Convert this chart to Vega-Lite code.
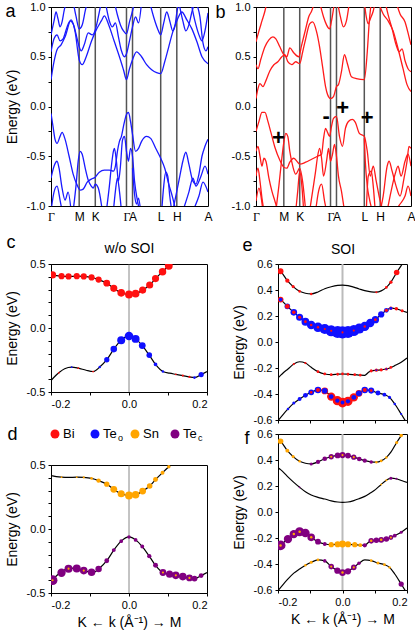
{
"$schema":"https://vega.github.io/schema/vega-lite/v6.json",
"background":"white",
"padding":{"left":4,"top":0,"right":0,"bottom":0},
"config":{
 "font":"Liberation Sans",
 "view":{"stroke":"#000","strokeWidth":1},
 "axis":{"labelFont":"Liberation Sans","labelFontSize":11,"labelColor":"#000","titleFont":"Liberation Sans","titleFontSize":14,"titleFontWeight":"normal","titleColor":"#000","domainColor":"#000","tickColor":"#000","grid":false,"tickSize":3,"labelPadding":3,"titlePadding":7,"minExtent":0,"labelOverlap":false,"labelSeparation":-40}
},
"datasets":{
"hs":[{"k":28},{"k":44},{"k":75},{"k":81},{"k":109},{"k":125}],
"sy":[{"k":22.6,"E":-0.32,"t":"+"},{"k":70.6,"E":-0.1,"t":"-"},{"k":87.3,"E":-0.015,"t":"+"},{"k":111.8,"E":-0.115,"t":"+"}],
"ba":[
{"b":1,"k":0,"E":0.27},{"b":1,"k":3,"E":0.45},{"b":1,"k":6,"E":0.57},{"b":1,"k":10,"E":0.62},{"b":1,"k":14,"E":0.7},{"b":1,"k":20,"E":0.87},{"b":1,"k":24,"E":0.75},{"b":1,"k":28,"E":0.47},{"b":1,"k":31,"E":0.42},{"b":1,"k":35,"E":0.5},{"b":1,"k":40,"E":0.65},{"b":1,"k":44,"E":0.75},{"b":1,"k":50,"E":0.86},{"b":1,"k":53,"E":0.91},{"b":1,"k":57,"E":0.83},{"b":1,"k":63,"E":0.65},{"b":1,"k":68,"E":0.5},{"b":1,"k":72,"E":0.37},{"b":1,"k":75,"E":0.27},{"b":1,"k":78,"E":0.38},{"b":1,"k":81,"E":0.47},{"b":1,"k":85,"E":0.55},{"b":1,"k":90,"E":0.5},{"b":1,"k":95,"E":0.42},{"b":1,"k":100,"E":0.37},{"b":1,"k":105,"E":0.34},{"b":1,"k":109,"E":0.33},{"b":1,"k":113,"E":0.45},{"b":1,"k":117,"E":0.6},{"b":1,"k":121,"E":0.75},{"b":1,"k":125,"E":0.86},{"b":1,"k":130,"E":0.95},{"b":1,"k":135,"E":0.87},{"b":1,"k":140,"E":0.78},{"b":1,"k":145,"E":0.65},{"b":1,"k":150,"E":0.5},{"b":1,"k":156,"E":0.43},
{"b":2,"k":0,"E":0.55},{"b":2,"k":3,"E":0.68},{"b":2,"k":6,"E":0.72},{"b":2,"k":9,"E":0.66},{"b":2,"k":12,"E":0.68},{"b":2,"k":16,"E":0.8},{"b":2,"k":19,"E":0.86},{"b":2,"k":22,"E":0.83},{"b":2,"k":26,"E":0.68},{"b":2,"k":28,"E":0.6},{"b":2,"k":30,"E":0.56},{"b":2,"k":33,"E":0.62},{"b":2,"k":37,"E":0.74},{"b":2,"k":41,"E":0.72},{"b":2,"k":44,"E":0.77},{"b":2,"k":47,"E":0.9},{"b":2,"k":50,"E":1.05},
{"b":3,"k":0,"E":0.72},{"b":3,"k":3,"E":0.86},{"b":3,"k":5,"E":0.95},{"b":3,"k":7,"E":0.88},{"b":3,"k":9,"E":0.8},{"b":3,"k":11,"E":0.85},{"b":3,"k":13,"E":0.96},{"b":3,"k":15,"E":1.05},
{"b":4,"k":22,"E":1.05},{"b":4,"k":25,"E":0.9},{"b":4,"k":28,"E":0.78},{"b":4,"k":31,"E":0.82},{"b":4,"k":34,"E":0.96},{"b":4,"k":36,"E":1.05},
{"b":5,"k":54,"E":1.05},{"b":5,"k":58,"E":0.86},{"b":5,"k":61,"E":0.8},{"b":5,"k":64,"E":0.84},{"b":5,"k":67,"E":0.7},{"b":5,"k":70,"E":0.56},{"b":5,"k":73,"E":0.5},{"b":5,"k":75,"E":0.53},{"b":5,"k":78,"E":0.66},{"b":5,"k":81,"E":0.8},{"b":5,"k":84,"E":0.9},{"b":5,"k":87,"E":0.84},{"b":5,"k":90,"E":1.05},
{"b":6,"k":63,"E":1.05},{"b":6,"k":66,"E":0.92},{"b":6,"k":69,"E":0.82},{"b":6,"k":72,"E":0.76},{"b":6,"k":75,"E":0.73},{"b":6,"k":78,"E":0.85},{"b":6,"k":81,"E":0.96},{"b":6,"k":83,"E":1.05},
{"b":7,"k":98,"E":1.05},{"b":7,"k":102,"E":0.9},{"b":7,"k":106,"E":0.78},{"b":7,"k":109,"E":0.72},{"b":7,"k":112,"E":0.84},{"b":7,"k":115,"E":0.95},{"b":7,"k":118,"E":0.86},{"b":7,"k":121,"E":0.76},{"b":7,"k":123,"E":0.8},{"b":7,"k":125,"E":0.94},{"b":7,"k":127,"E":1.05},
{"b":8,"k":127,"E":1.05},{"b":8,"k":131,"E":0.86},{"b":8,"k":134,"E":0.76},{"b":8,"k":137,"E":0.82},{"b":8,"k":140,"E":0.95},{"b":8,"k":143,"E":1.05},
{"b":9,"k":139,"E":1.05},{"b":9,"k":143,"E":0.86},{"b":9,"k":147,"E":0.72},{"b":9,"k":150,"E":0.66},{"b":9,"k":153,"E":0.76},{"b":9,"k":156,"E":0.94},
{"b":10,"k":144,"E":1.05},{"b":10,"k":148,"E":0.9},{"b":10,"k":151,"E":0.64},{"b":10,"k":154,"E":0.56},{"b":10,"k":156,"E":0.6},
{"b":11,"k":0,"E":-0.07},{"b":11,"k":2,"E":-0.2},{"b":11,"k":4,"E":-0.33},{"b":11,"k":6,"E":-0.37},{"b":11,"k":9,"E":-0.3},{"b":11,"k":11,"E":-0.26},{"b":11,"k":14,"E":-0.33},{"b":11,"k":18,"E":-0.5},{"b":11,"k":22,"E":-0.68},{"b":11,"k":26,"E":-0.79},{"b":11,"k":29,"E":-0.84},{"b":11,"k":32,"E":-0.83},{"b":11,"k":36,"E":-0.76},{"b":11,"k":40,"E":-0.73},{"b":11,"k":44,"E":-0.71},{"b":11,"k":48,"E":-0.66},{"b":11,"k":53,"E":-0.64},{"b":11,"k":58,"E":-0.64},{"b":11,"k":62,"E":-0.65},{"b":11,"k":64,"E":-0.6},{"b":11,"k":66,"E":-0.45},{"b":11,"k":68,"E":-0.35},{"b":11,"k":70,"E":-0.3},{"b":11,"k":72,"E":-0.2},{"b":11,"k":75,"E":-0.08},{"b":11,"k":77,"E":-0.06},{"b":11,"k":79,"E":-0.15},{"b":11,"k":81,"E":-0.28},{"b":11,"k":84,"E":-0.45},{"b":11,"k":87,"E":-0.42},{"b":11,"k":90,"E":-0.35},{"b":11,"k":95,"E":-0.3},{"b":11,"k":99,"E":-0.32},{"b":11,"k":104,"E":-0.42},{"b":11,"k":109,"E":-0.52},{"b":11,"k":113,"E":-0.62},{"b":11,"k":117,"E":-0.78},{"b":11,"k":121,"E":-0.92},{"b":11,"k":124,"E":-1.05},
{"b":12,"k":22,"E":-1.05},{"b":12,"k":25,"E":-0.78},{"b":12,"k":27,"E":-0.55},{"b":12,"k":29,"E":-0.45},{"b":12,"k":31,"E":-0.48},{"b":12,"k":34,"E":-0.62},{"b":12,"k":37,"E":-0.74},{"b":12,"k":40,"E":-0.8},{"b":12,"k":42,"E":-0.82},{"b":12,"k":44,"E":-0.78},{"b":12,"k":47,"E":-0.82},{"b":12,"k":51,"E":-1.05},
{"b":13,"k":0,"E":-0.72},{"b":13,"k":3,"E":-0.6},{"b":13,"k":6,"E":-0.55},{"b":13,"k":8,"E":-0.62},{"b":13,"k":11,"E":-0.82},{"b":13,"k":14,"E":-0.94},{"b":13,"k":17,"E":-0.86},{"b":13,"k":20,"E":-1.05},
{"b":14,"k":0,"E":-1.05},{"b":14,"k":3,"E":-0.86},{"b":14,"k":6,"E":-0.8},{"b":14,"k":9,"E":-0.94},{"b":14,"k":11,"E":-1.05},
{"b":15,"k":55,"E":-1.05},{"b":15,"k":58,"E":-0.8},{"b":15,"k":60,"E":-0.6},{"b":15,"k":62,"E":-0.45},{"b":15,"k":63,"E":-0.42},{"b":15,"k":65,"E":-0.55},{"b":15,"k":67,"E":-0.75},{"b":15,"k":69,"E":-0.6},{"b":15,"k":71,"E":-0.34},{"b":15,"k":73,"E":-0.3},{"b":15,"k":75,"E":-0.45},{"b":15,"k":77,"E":-0.55},{"b":15,"k":79,"E":-0.42},{"b":15,"k":81,"E":-0.5},{"b":15,"k":83,"E":-0.75},{"b":15,"k":86,"E":-0.95},{"b":15,"k":88,"E":-1.05},
{"b":16,"k":62,"E":-1.05},{"b":16,"k":64,"E":-0.85},{"b":16,"k":66,"E":-0.72},{"b":16,"k":68,"E":-0.85},{"b":16,"k":70,"E":-1.05},
{"b":17,"k":81,"E":-0.62},{"b":17,"k":83,"E":-0.88},{"b":17,"k":85,"E":-0.98},{"b":17,"k":87,"E":-0.92},{"b":17,"k":89,"E":-1.05},
{"b":18,"k":110,"E":-1.05},{"b":18,"k":112,"E":-0.8},{"b":18,"k":114,"E":-0.66},{"b":18,"k":116,"E":-0.7},{"b":18,"k":118,"E":-0.9},{"b":18,"k":120,"E":-1.05},
{"b":19,"k":121,"E":-1.05},{"b":19,"k":124,"E":-0.9},{"b":19,"k":128,"E":-0.7},{"b":19,"k":131,"E":-0.55},{"b":19,"k":134,"E":-0.46},{"b":19,"k":137,"E":-0.58},{"b":19,"k":141,"E":-0.75},{"b":19,"k":144,"E":-0.78},{"b":19,"k":147,"E":-0.68},{"b":19,"k":150,"E":-0.5},{"b":19,"k":153,"E":-0.4},{"b":19,"k":156,"E":-0.33},
{"b":20,"k":131,"E":-1.05},{"b":20,"k":137,"E":-0.86},{"b":20,"k":141,"E":-0.72},{"b":20,"k":144,"E":-0.8},{"b":20,"k":149,"E":-0.7},{"b":20,"k":153,"E":-0.6},{"b":20,"k":156,"E":-0.68},
{"b":21,"k":141,"E":-1.05},{"b":21,"k":147,"E":-0.9},{"b":21,"k":151,"E":-0.76},{"b":21,"k":156,"E":-0.86}
],
"bb":[
{"b":1,"k":0,"E":0.08},{"b":1,"k":2,"E":0.18},{"b":1,"k":4,"E":0.23},{"b":1,"k":7,"E":0.2},{"b":1,"k":10,"E":0.26},{"b":1,"k":14,"E":0.36},{"b":1,"k":18,"E":0.42},{"b":1,"k":22,"E":0.45},{"b":1,"k":26,"E":0.5},{"b":1,"k":29,"E":0.52},{"b":1,"k":32,"E":0.45},{"b":1,"k":36,"E":0.42},{"b":1,"k":40,"E":0.45},{"b":1,"k":44,"E":0.43},{"b":1,"k":47,"E":0.55},{"b":1,"k":50,"E":0.68},{"b":1,"k":54,"E":0.83},{"b":1,"k":57,"E":0.85},{"b":1,"k":61,"E":0.75},{"b":1,"k":64,"E":0.6},{"b":1,"k":67,"E":0.4},{"b":1,"k":70,"E":0.2},{"b":1,"k":72,"E":0.12},{"b":1,"k":75,"E":0.08},{"b":1,"k":78,"E":0.1},{"b":1,"k":81,"E":0.2},{"b":1,"k":83,"E":0.22},{"b":1,"k":86,"E":0.35},{"b":1,"k":89,"E":0.52},{"b":1,"k":92,"E":0.43},{"b":1,"k":96,"E":0.3},{"b":1,"k":101,"E":0.28},{"b":1,"k":109,"E":0.27},{"b":1,"k":112,"E":0.55},{"b":1,"k":114,"E":0.85},{"b":1,"k":116,"E":1.05},
{"b":2,"k":0,"E":0.42},{"b":2,"k":2,"E":0.38},{"b":2,"k":5,"E":0.48},{"b":2,"k":9,"E":0.6},{"b":2,"k":13,"E":0.67},{"b":2,"k":17,"E":0.7},{"b":2,"k":20,"E":0.68},{"b":2,"k":24,"E":0.6},{"b":2,"k":28,"E":0.52},{"b":2,"k":31,"E":0.5},{"b":2,"k":34,"E":0.59},{"b":2,"k":38,"E":0.54},{"b":2,"k":43,"E":0.5},{"b":2,"k":46,"E":0.62},{"b":2,"k":50,"E":0.78},{"b":2,"k":53,"E":0.9},{"b":2,"k":56,"E":0.96},{"b":2,"k":59,"E":1.05},
{"b":3,"k":0,"E":0.65},{"b":3,"k":3,"E":0.76},{"b":3,"k":6,"E":0.86},{"b":3,"k":9,"E":0.96},{"b":3,"k":11,"E":1.05},
{"b":4,"k":64,"E":1.05},{"b":4,"k":68,"E":0.9},{"b":4,"k":71,"E":0.82},{"b":4,"k":74,"E":0.78},{"b":4,"k":76,"E":0.86},{"b":4,"k":79,"E":1.05},
{"b":5,"k":82,"E":1.05},{"b":5,"k":85,"E":0.9},{"b":5,"k":88,"E":0.8},{"b":5,"k":91,"E":0.86},{"b":5,"k":94,"E":1.05},
{"b":6,"k":109,"E":1.05},{"b":6,"k":111,"E":0.9},{"b":6,"k":113,"E":0.83},{"b":6,"k":115,"E":0.88},{"b":6,"k":118,"E":0.96},{"b":6,"k":120,"E":1.05},
{"b":7,"k":125,"E":1.0},{"b":7,"k":128,"E":0.93},{"b":7,"k":133,"E":0.86},{"b":7,"k":138,"E":0.76},{"b":7,"k":143,"E":0.58},{"b":7,"k":148,"E":0.38},{"b":7,"k":152,"E":0.22},{"b":7,"k":156,"E":0.15},
{"b":8,"k":130,"E":1.05},{"b":8,"k":133,"E":0.92},{"b":8,"k":137,"E":0.78},{"b":8,"k":141,"E":0.62},{"b":8,"k":144,"E":0.55},{"b":8,"k":147,"E":0.58},{"b":8,"k":150,"E":0.46},{"b":8,"k":153,"E":0.38},{"b":8,"k":156,"E":0.35},
{"b":9,"k":141,"E":1.05},{"b":9,"k":145,"E":0.93},{"b":9,"k":150,"E":0.85},{"b":9,"k":154,"E":0.7},{"b":9,"k":156,"E":0.62},
{"b":10,"k":0,"E":-0.25},{"b":10,"k":3,"E":-0.15},{"b":10,"k":6,"E":-0.06},{"b":10,"k":9,"E":-0.06},{"b":10,"k":12,"E":-0.15},{"b":10,"k":15,"E":-0.26},{"b":10,"k":19,"E":-0.41},{"b":10,"k":24,"E":-0.54},{"b":10,"k":28,"E":-0.61},{"b":10,"k":31,"E":-0.62},{"b":10,"k":34,"E":-0.56},{"b":10,"k":38,"E":-0.52},{"b":10,"k":42,"E":-0.56},{"b":10,"k":44,"E":-0.58},{"b":10,"k":50,"E":-0.56},{"b":10,"k":56,"E":-0.53},{"b":10,"k":62,"E":-0.5},{"b":10,"k":66,"E":-0.48},{"b":10,"k":68,"E":-0.32},{"b":10,"k":70,"E":-0.22},{"b":10,"k":72,"E":-0.26},{"b":10,"k":74,"E":-0.3},{"b":10,"k":76,"E":-0.2},{"b":10,"k":78,"E":-0.12},{"b":10,"k":81,"E":-0.1},{"b":10,"k":84,"E":-0.3},{"b":10,"k":87,"E":-0.4},{"b":10,"k":90,"E":-0.22},{"b":10,"k":93,"E":-0.15},{"b":10,"k":97,"E":-0.13},{"b":10,"k":100,"E":-0.16},{"b":10,"k":104,"E":-0.27},{"b":10,"k":109,"E":-0.3},{"b":10,"k":112,"E":-0.45},{"b":10,"k":115,"E":-0.7},{"b":10,"k":118,"E":-0.6},{"b":10,"k":121,"E":-0.75},{"b":10,"k":125,"E":-0.95},{"b":10,"k":128,"E":-1.05},
{"b":11,"k":20,"E":-1.05},{"b":11,"k":23,"E":-0.8},{"b":11,"k":26,"E":-0.52},{"b":11,"k":28,"E":-0.36},{"b":11,"k":30,"E":-0.27},{"b":11,"k":32,"E":-0.3},{"b":11,"k":34,"E":-0.45},{"b":11,"k":37,"E":-0.6},{"b":11,"k":40,"E":-0.68},{"b":11,"k":44,"E":-0.62},{"b":11,"k":47,"E":-0.76},{"b":11,"k":50,"E":-1.05},
{"b":12,"k":0,"E":-0.45},{"b":12,"k":2,"E":-0.4},{"b":12,"k":4,"E":-0.5},{"b":12,"k":6,"E":-0.6},{"b":12,"k":8,"E":-0.52},{"b":12,"k":10,"E":-0.55},{"b":12,"k":13,"E":-0.72},{"b":12,"k":16,"E":-0.85},{"b":12,"k":19,"E":-0.95},{"b":12,"k":22,"E":-1.05},
{"b":13,"k":0,"E":-0.7},{"b":13,"k":2,"E":-0.62},{"b":13,"k":4,"E":-0.75},{"b":13,"k":6,"E":-0.92},{"b":13,"k":8,"E":-1.05},
{"b":14,"k":0,"E":-0.95},{"b":14,"k":3,"E":-0.82},{"b":14,"k":5,"E":-0.9},{"b":14,"k":7,"E":-1.05},
{"b":15,"k":54,"E":-1.05},{"b":15,"k":57,"E":-0.85},{"b":15,"k":60,"E":-0.65},{"b":15,"k":62,"E":-0.5},{"b":15,"k":64,"E":-0.42},{"b":15,"k":66,"E":-0.52},{"b":15,"k":68,"E":-0.7},{"b":15,"k":71,"E":-0.55},{"b":15,"k":73,"E":-0.42},{"b":15,"k":75,"E":-0.55},{"b":15,"k":77,"E":-0.48},{"b":15,"k":79,"E":-0.38},{"b":15,"k":81,"E":-0.5},{"b":15,"k":83,"E":-0.7},{"b":15,"k":86,"E":-0.85},{"b":15,"k":89,"E":-1.05},
{"b":16,"k":40,"E":-1.05},{"b":16,"k":42,"E":-0.85},{"b":16,"k":44,"E":-0.65},{"b":16,"k":46,"E":-0.78},{"b":16,"k":48,"E":-1.05},
{"b":17,"k":60,"E":-1.05},{"b":17,"k":63,"E":-0.85},{"b":17,"k":66,"E":-0.78},{"b":17,"k":69,"E":-0.95},{"b":17,"k":71,"E":-1.05},
{"b":18,"k":109,"E":-0.32},{"b":18,"k":110,"E":-0.55},{"b":18,"k":112,"E":-0.8},{"b":18,"k":114,"E":-0.92},{"b":18,"k":117,"E":-1.05},
{"b":19,"k":111,"E":-1.05},{"b":19,"k":113,"E":-0.7},{"b":19,"k":116,"E":-0.65},{"b":19,"k":118,"E":-0.8},{"b":19,"k":120,"E":-1.05},
{"b":20,"k":125,"E":-1.05},{"b":20,"k":128,"E":-0.9},{"b":20,"k":132,"E":-0.6},{"b":20,"k":134,"E":-0.55},{"b":20,"k":137,"E":-0.65},{"b":20,"k":141,"E":-0.8},{"b":20,"k":145,"E":-0.9},{"b":20,"k":149,"E":-0.72},{"b":20,"k":152,"E":-0.55},{"b":20,"k":154,"E":-0.4},{"b":20,"k":156,"E":-0.42},
{"b":21,"k":132,"E":-1.05},{"b":21,"k":136,"E":-0.85},{"b":21,"k":140,"E":-0.68},{"b":21,"k":143,"E":-0.6},{"b":21,"k":146,"E":-0.7},{"b":21,"k":150,"E":-0.55},{"b":21,"k":153,"E":-0.48},{"b":21,"k":156,"E":-0.6},
{"b":22,"k":140,"E":-1.05},{"b":22,"k":145,"E":-0.98},{"b":22,"k":150,"E":-0.9},{"b":22,"k":153,"E":-0.8},{"b":22,"k":156,"E":-0.9}
],
"w0":[
{"b":1,"x":-0.2,"E":0.42},{"b":1,"x":-0.196,"E":0.415},{"b":1,"x":-0.173,"E":0.405},{"b":1,"x":-0.155,"E":0.403},{"b":1,"x":-0.134,"E":0.405},{"b":1,"x":-0.116,"E":0.403},{"b":1,"x":-0.096,"E":0.395},{"b":1,"x":-0.078,"E":0.378},{"b":1,"x":-0.057,"E":0.35},{"b":1,"x":-0.039,"E":0.31},{"b":1,"x":-0.02,"E":0.275},{"b":1,"x":0,"E":0.262},{"b":1,"x":0.017,"E":0.268},{"b":1,"x":0.035,"E":0.296},{"b":1,"x":0.053,"E":0.336},{"b":1,"x":0.068,"E":0.386},{"b":1,"x":0.086,"E":0.44},{"b":1,"x":0.102,"E":0.486},{"b":1,"x":0.12,"E":0.535},
{"b":2,"x":-0.04,"E":0.56},{"b":2,"x":-0.02,"E":0.515},{"b":2,"x":0,"E":0.5},{"b":2,"x":0.02,"E":0.515},{"b":2,"x":0.04,"E":0.56},
{"b":3,"x":-0.2,"E":-0.41},{"b":3,"x":-0.18,"E":-0.35},{"b":3,"x":-0.165,"E":-0.318},{"b":3,"x":-0.147,"E":-0.306},{"b":3,"x":-0.13,"E":-0.314},{"b":3,"x":-0.11,"E":-0.33},{"b":3,"x":-0.092,"E":-0.34},{"b":3,"x":-0.075,"E":-0.305},{"b":3,"x":-0.057,"E":-0.248},{"b":3,"x":-0.039,"E":-0.165},{"b":3,"x":-0.02,"E":-0.095},{"b":3,"x":0,"E":-0.062},{"b":3,"x":0.017,"E":-0.085},{"b":3,"x":0.034,"E":-0.137},{"b":3,"x":0.052,"E":-0.212},{"b":3,"x":0.068,"E":-0.284},{"b":3,"x":0.087,"E":-0.34},{"b":3,"x":0.104,"E":-0.353},{"b":3,"x":0.12,"E":-0.362},{"b":3,"x":0.138,"E":-0.372},{"b":3,"x":0.155,"E":-0.382},{"b":3,"x":0.168,"E":-0.387},{"b":3,"x":0.185,"E":-0.364},{"b":3,"x":0.2,"E":-0.34}
],
"so":[
{"b":1,"x":-0.2,"E":0.56},{"b":1,"x":-0.192,"E":0.544},{"b":1,"x":-0.171,"E":0.472},{"b":1,"x":-0.153,"E":0.426},{"b":1,"x":-0.133,"E":0.39},{"b":1,"x":-0.115,"E":0.375},{"b":1,"x":-0.097,"E":0.37},{"b":1,"x":-0.076,"E":0.385},{"b":1,"x":-0.055,"E":0.41},{"b":1,"x":-0.035,"E":0.425},{"b":1,"x":-0.015,"E":0.435},{"b":1,"x":0,"E":0.438},{"b":1,"x":0.017,"E":0.434},{"b":1,"x":0.035,"E":0.422},{"b":1,"x":0.052,"E":0.408},{"b":1,"x":0.069,"E":0.395},{"b":1,"x":0.089,"E":0.385},{"b":1,"x":0.105,"E":0.383},{"b":1,"x":0.12,"E":0.393},{"b":1,"x":0.136,"E":0.42},{"b":1,"x":0.15,"E":0.46},{"b":1,"x":0.168,"E":0.535},{"b":1,"x":0.182,"E":0.588},{"b":1,"x":0.2,"E":0.65},
{"b":2,"x":-0.2,"E":0.34},{"b":2,"x":-0.192,"E":0.326},{"b":2,"x":-0.171,"E":0.274},{"b":2,"x":-0.151,"E":0.228},{"b":2,"x":-0.133,"E":0.19},{"b":2,"x":-0.115,"E":0.156},{"b":2,"x":-0.097,"E":0.131},{"b":2,"x":-0.076,"E":0.113},{"b":2,"x":-0.055,"E":0.1},{"b":2,"x":-0.035,"E":0.086},{"b":2,"x":-0.015,"E":0.077},{"b":2,"x":0,"E":0.074},{"b":2,"x":0.017,"E":0.077},{"b":2,"x":0.035,"E":0.088},{"b":2,"x":0.052,"E":0.103},{"b":2,"x":0.069,"E":0.12},{"b":2,"x":0.086,"E":0.146},{"b":2,"x":0.102,"E":0.172},{"b":2,"x":0.12,"E":0.212},{"b":2,"x":0.136,"E":0.244},{"b":2,"x":0.15,"E":0.26},{"b":2,"x":0.167,"E":0.256},{"b":2,"x":0.185,"E":0.24},{"b":2,"x":0.2,"E":0.228},
{"b":3,"x":-0.2,"E":-0.277},{"b":3,"x":-0.192,"E":-0.257},{"b":3,"x":-0.185,"E":-0.24},{"b":3,"x":-0.169,"E":-0.208},{"b":3,"x":-0.151,"E":-0.17},{"b":3,"x":-0.133,"E":-0.152},{"b":3,"x":-0.115,"E":-0.162},{"b":3,"x":-0.097,"E":-0.195},{"b":3,"x":-0.076,"E":-0.228},{"b":3,"x":-0.055,"E":-0.246},{"b":3,"x":-0.035,"E":-0.251},{"b":3,"x":-0.015,"E":-0.248},{"b":3,"x":0,"E":-0.246},{"b":3,"x":0.017,"E":-0.248},{"b":3,"x":0.038,"E":-0.251},{"b":3,"x":0.055,"E":-0.255},{"b":3,"x":0.069,"E":-0.256},{"b":3,"x":0.08,"E":-0.235},{"b":3,"x":0.089,"E":-0.222},{"b":3,"x":0.105,"E":-0.217},{"b":3,"x":0.12,"E":-0.214},{"b":3,"x":0.136,"E":-0.208},{"b":3,"x":0.15,"E":-0.196},{"b":3,"x":0.162,"E":-0.182},{"b":3,"x":0.182,"E":-0.156},{"b":3,"x":0.2,"E":-0.123},
{"b":4,"x":-0.2,"E":-0.605},{"b":4,"x":-0.185,"E":-0.56},{"b":4,"x":-0.169,"E":-0.515},{"b":4,"x":-0.151,"E":-0.47},{"b":4,"x":-0.133,"E":-0.438},{"b":4,"x":-0.115,"E":-0.41},{"b":4,"x":-0.097,"E":-0.387},{"b":4,"x":-0.076,"E":-0.369},{"b":4,"x":-0.055,"E":-0.376},{"b":4,"x":-0.035,"E":-0.42},{"b":4,"x":-0.016,"E":-0.451},{"b":4,"x":0,"E":-0.466},{"b":4,"x":0.017,"E":-0.456},{"b":4,"x":0.035,"E":-0.426},{"b":4,"x":0.051,"E":-0.395},{"b":4,"x":0.069,"E":-0.369},{"b":4,"x":0.089,"E":-0.374},{"b":4,"x":0.11,"E":-0.393},{"b":4,"x":0.13,"E":-0.405},{"b":4,"x":0.146,"E":-0.426},{"b":4,"x":0.162,"E":-0.477},{"b":4,"x":0.182,"E":-0.554},{"b":4,"x":0.198,"E":-0.618}
],
"dc":[
{"el":"Bi","x":-0.196,"E":0.415,"w":0.33},{"el":"Bi","x":-0.173,"E":0.405,"w":0.25},{"el":"Bi","x":-0.155,"E":0.403,"w":0.25},{"el":"Bi","x":-0.134,"E":0.405,"w":0.25},{"el":"Bi","x":-0.116,"E":0.403,"w":0.25},{"el":"Bi","x":-0.096,"E":0.395,"w":0.25},{"el":"Bi","x":-0.078,"E":0.378,"w":0.25},{"el":"Bi","x":-0.057,"E":0.35,"w":0.3},{"el":"Bi","x":-0.039,"E":0.31,"w":0.33},{"el":"Bi","x":-0.02,"E":0.275,"w":0.38},{"el":"Bi","x":0,"E":0.262,"w":0.4},{"el":"Bi","x":0.017,"E":0.268,"w":0.38},{"el":"Bi","x":0.035,"E":0.296,"w":0.33},{"el":"Bi","x":0.053,"E":0.336,"w":0.33},{"el":"Bi","x":0.068,"E":0.386,"w":0.33},{"el":"Bi","x":0.086,"E":0.44,"w":0.36},{"el":"Bi","x":0.102,"E":0.486,"w":0.4},
{"el":"Te_o","x":-0.075,"E":-0.305,"w":0.04},{"el":"Te_o","x":-0.057,"E":-0.248,"w":0.18},{"el":"Te_o","x":-0.039,"E":-0.165,"w":0.28},{"el":"Te_o","x":-0.02,"E":-0.095,"w":0.41},{"el":"Te_o","x":0,"E":-0.062,"w":0.48},{"el":"Te_o","x":0.017,"E":-0.085,"w":0.41},{"el":"Te_o","x":0.034,"E":-0.137,"w":0.3},{"el":"Te_o","x":0.052,"E":-0.212,"w":0.2},{"el":"Te_o","x":0.068,"E":-0.284,"w":0.09},{"el":"Te_o","x":0.087,"E":-0.34,"w":0.04},{"el":"Te_o","x":0.185,"E":-0.364,"w":0.18},{"el":"Te_o","x":0.168,"E":-0.387,"w":0.05},{"el":"Te_o","x":-0.147,"E":-0.306,"w":0.02},
{"el":"Bi","x":-0.18,"E":-0.35,"w":0.02},{"el":"Bi","x":-0.13,"E":-0.314,"w":0.02},{"el":"Bi","x":-0.092,"E":-0.34,"w":0.02},{"el":"Bi","x":0.12,"E":-0.362,"w":0.02},{"el":"Bi","x":0.138,"E":-0.372,"w":0.03},{"el":"Bi","x":0.155,"E":-0.382,"w":0.03}
],
"dd":[
{"el":"Sn","x":-0.173,"E":0.405,"w":0.02},{"el":"Sn","x":-0.134,"E":0.405,"w":0.02},{"el":"Sn","x":-0.116,"E":0.403,"w":0.03},{"el":"Sn","x":-0.096,"E":0.395,"w":0.05},{"el":"Sn","x":-0.078,"E":0.378,"w":0.13},{"el":"Sn","x":-0.057,"E":0.35,"w":0.18},{"el":"Sn","x":-0.039,"E":0.31,"w":0.3},{"el":"Sn","x":-0.02,"E":0.275,"w":0.33},{"el":"Sn","x":0,"E":0.262,"w":0.4},{"el":"Sn","x":0.017,"E":0.268,"w":0.36},{"el":"Sn","x":0.035,"E":0.296,"w":0.3},{"el":"Sn","x":0.053,"E":0.336,"w":0.2},{"el":"Sn","x":0.068,"E":0.386,"w":0.16},{"el":"Sn","x":0.086,"E":0.44,"w":0.1},{"el":"Sn","x":0.102,"E":0.486,"w":0.08},
{"el":"Te_c","x":-0.196,"E":-0.4,"w":0.62},{"el":"Te_c","x":-0.173,"E":-0.342,"w":0.45},{"el":"Te_c","x":-0.155,"E":-0.31,"w":0.42},{"el":"Te_c","x":-0.134,"E":-0.309,"w":0.42},{"el":"Te_c","x":-0.116,"E":-0.325,"w":0.38},{"el":"Te_c","x":-0.096,"E":-0.338,"w":0.36},{"el":"Te_c","x":-0.078,"E":-0.312,"w":0.27},{"el":"Te_c","x":-0.057,"E":-0.248,"w":0.15},{"el":"Te_c","x":-0.039,"E":-0.165,"w":0.1},{"el":"Te_c","x":-0.02,"E":-0.095,"w":0.09},{"el":"Te_c","x":0,"E":-0.062,"w":0.08},{"el":"Te_c","x":0.017,"E":-0.085,"w":0.09},{"el":"Te_c","x":0.034,"E":-0.137,"w":0.1},{"el":"Te_c","x":0.052,"E":-0.212,"w":0.12},{"el":"Te_c","x":0.068,"E":-0.284,"w":0.16},{"el":"Te_c","x":0.087,"E":-0.34,"w":0.3},{"el":"Te_c","x":0.104,"E":-0.353,"w":0.33},{"el":"Te_c","x":0.12,"E":-0.362,"w":0.38},{"el":"Te_c","x":0.138,"E":-0.372,"w":0.38},{"el":"Te_c","x":0.155,"E":-0.382,"w":0.3},{"el":"Te_c","x":0.168,"E":-0.387,"w":0.22},{"el":"Te_c","x":0.185,"E":-0.364,"w":0.15},
{"el":"Sn","x":-0.196,"E":-0.4,"w":0.03},{"el":"Sn","x":-0.155,"E":-0.31,"w":0.03},{"el":"Sn","x":-0.116,"E":-0.325,"w":0.03},{"el":"Sn","x":0.087,"E":-0.34,"w":0.03},{"el":"Sn","x":0.12,"E":-0.362,"w":0.03},{"el":"Sn","x":0.155,"E":-0.382,"w":0.03}
],
"de":[
{"el":"Bi","x":-0.192,"E":0.544,"w":0.22},{"el":"Bi","x":-0.171,"E":0.472,"w":0.12},{"el":"Bi","x":-0.153,"E":0.426,"w":0.06},{"el":"Bi","x":-0.133,"E":0.39,"w":0.05},{"el":"Bi","x":-0.097,"E":0.37,"w":0.04},{"el":"Bi","x":0.105,"E":0.383,"w":0.03},{"el":"Bi","x":0.136,"E":0.42,"w":0.05},{"el":"Bi","x":0.15,"E":0.46,"w":0.07},{"el":"Bi","x":0.168,"E":0.535,"w":0.2},
{"el":"Te_o","x":-0.192,"E":0.326,"w":0.1},{"el":"Te_o","x":-0.171,"E":0.274,"w":0.2},{"el":"Te_o","x":-0.151,"E":0.228,"w":0.28},{"el":"Te_o","x":-0.133,"E":0.19,"w":0.33},{"el":"Te_o","x":-0.115,"E":0.156,"w":0.4},{"el":"Te_o","x":-0.097,"E":0.131,"w":0.48},{"el":"Te_o","x":-0.076,"E":0.113,"w":0.58},{"el":"Te_o","x":-0.055,"E":0.1,"w":0.68},{"el":"Te_o","x":-0.035,"E":0.086,"w":0.8},{"el":"Te_o","x":-0.015,"E":0.077,"w":0.9},{"el":"Te_o","x":0,"E":0.074,"w":0.95},{"el":"Te_o","x":0.017,"E":0.077,"w":0.9},{"el":"Te_o","x":0.035,"E":0.088,"w":0.78},{"el":"Te_o","x":0.052,"E":0.103,"w":0.65},{"el":"Te_o","x":0.069,"E":0.12,"w":0.55},{"el":"Te_o","x":0.086,"E":0.146,"w":0.45},{"el":"Te_o","x":0.102,"E":0.172,"w":0.35},{"el":"Te_o","x":0.12,"E":0.212,"w":0.25},{"el":"Te_o","x":0.136,"E":0.244,"w":0.15},{"el":"Te_o","x":0.15,"E":0.26,"w":0.06},
{"el":"Bi","x":-0.192,"E":0.326,"w":0.22},{"el":"Bi","x":-0.171,"E":0.274,"w":0.15},{"el":"Bi","x":-0.151,"E":0.228,"w":0.08},{"el":"Bi","x":-0.133,"E":0.19,"w":0.06},{"el":"Bi","x":-0.115,"E":0.156,"w":0.05},{"el":"Bi","x":-0.097,"E":0.131,"w":0.04},{"el":"Bi","x":-0.076,"E":0.113,"w":0.04},{"el":"Bi","x":-0.055,"E":0.1,"w":0.03},{"el":"Bi","x":-0.035,"E":0.086,"w":0.03},{"el":"Bi","x":0,"E":0.074,"w":0.03},{"el":"Bi","x":0.035,"E":0.088,"w":0.03},{"el":"Bi","x":0.069,"E":0.12,"w":0.04},{"el":"Bi","x":0.102,"E":0.172,"w":0.05},{"el":"Bi","x":0.136,"E":0.244,"w":0.07},{"el":"Bi","x":0.15,"E":0.26,"w":0.08},{"el":"Bi","x":0.167,"E":0.256,"w":0.08},{"el":"Bi","x":0.185,"E":0.24,"w":0.06},
{"el":"Bi","x":-0.151,"E":-0.17,"w":0.03},{"el":"Bi","x":-0.115,"E":-0.162,"w":0.03},{"el":"Bi","x":-0.076,"E":-0.228,"w":0.05},{"el":"Bi","x":-0.055,"E":-0.246,"w":0.05},{"el":"Bi","x":-0.035,"E":-0.251,"w":0.05},{"el":"Bi","x":-0.015,"E":-0.248,"w":0.05},{"el":"Bi","x":0,"E":-0.246,"w":0.05},{"el":"Bi","x":0.017,"E":-0.248,"w":0.05},{"el":"Bi","x":0.038,"E":-0.251,"w":0.05},{"el":"Bi","x":0.055,"E":-0.255,"w":0.05},{"el":"Bi","x":0.089,"E":-0.222,"w":0.06},{"el":"Bi","x":0.105,"E":-0.217,"w":0.07},{"el":"Bi","x":0.12,"E":-0.214,"w":0.07},{"el":"Bi","x":0.136,"E":-0.208,"w":0.06},{"el":"Bi","x":0.15,"E":-0.196,"w":0.05},
{"el":"Te_o","x":0.105,"E":-0.217,"w":0.02},{"el":"Te_o","x":0.136,"E":-0.208,"w":0.02},
{"el":"Te_o","x":-0.169,"E":-0.515,"w":0.04},{"el":"Te_o","x":-0.151,"E":-0.47,"w":0.06},{"el":"Te_o","x":-0.133,"E":-0.438,"w":0.1},{"el":"Te_o","x":-0.115,"E":-0.41,"w":0.15},{"el":"Te_o","x":-0.097,"E":-0.387,"w":0.22},{"el":"Te_o","x":-0.076,"E":-0.369,"w":0.28},{"el":"Te_o","x":-0.055,"E":-0.376,"w":0.2},{"el":"Te_o","x":-0.035,"E":-0.42,"w":0.15},{"el":"Te_o","x":-0.016,"E":-0.451,"w":0.12},{"el":"Te_o","x":0,"E":-0.466,"w":0.1},{"el":"Te_o","x":0.017,"E":-0.456,"w":0.12},{"el":"Te_o","x":0.035,"E":-0.426,"w":0.15},{"el":"Te_o","x":0.051,"E":-0.395,"w":0.22},{"el":"Te_o","x":0.069,"E":-0.369,"w":0.28},{"el":"Te_o","x":0.089,"E":-0.374,"w":0.24},{"el":"Te_o","x":0.11,"E":-0.393,"w":0.16},{"el":"Te_o","x":0.13,"E":-0.405,"w":0.1},{"el":"Te_o","x":0.146,"E":-0.426,"w":0.06},{"el":"Te_o","x":0.162,"E":-0.477,"w":0.04},{"el":"Te_o","x":0.182,"E":-0.554,"w":0.03},
{"el":"Bi","x":-0.097,"E":-0.387,"w":0.05},{"el":"Bi","x":-0.076,"E":-0.369,"w":0.1},{"el":"Bi","x":-0.055,"E":-0.376,"w":0.3},{"el":"Bi","x":-0.035,"E":-0.42,"w":0.45},{"el":"Bi","x":-0.016,"E":-0.451,"w":0.55},{"el":"Bi","x":0,"E":-0.466,"w":0.6},{"el":"Bi","x":0.017,"E":-0.456,"w":0.55},{"el":"Bi","x":0.035,"E":-0.426,"w":0.45},{"el":"Bi","x":0.051,"E":-0.395,"w":0.3},{"el":"Bi","x":0.069,"E":-0.369,"w":0.1},{"el":"Bi","x":0.089,"E":-0.374,"w":0.05}
],
"df":[
{"el":"Sn","x":-0.192,"E":0.544,"w":0.2},{"el":"Sn","x":-0.171,"E":0.472,"w":0.1},{"el":"Sn","x":-0.153,"E":0.426,"w":0.06},{"el":"Sn","x":-0.133,"E":0.39,"w":0.04},{"el":"Sn","x":0.105,"E":0.383,"w":0.04},{"el":"Sn","x":0.12,"E":0.393,"w":0.05},{"el":"Sn","x":0.136,"E":0.42,"w":0.04},{"el":"Sn","x":0.168,"E":0.535,"w":0.06},{"el":"Sn","x":0.182,"E":0.588,"w":0.08},
{"el":"Te_c","x":-0.097,"E":0.37,"w":0.06},{"el":"Te_c","x":-0.076,"E":0.385,"w":0.12},{"el":"Te_c","x":-0.055,"E":0.41,"w":0.14},{"el":"Te_c","x":-0.035,"E":0.425,"w":0.18},{"el":"Te_c","x":-0.015,"E":0.435,"w":0.22},{"el":"Te_c","x":0,"E":0.438,"w":0.25},{"el":"Te_c","x":0.017,"E":0.434,"w":0.22},{"el":"Te_c","x":0.035,"E":0.422,"w":0.18},{"el":"Te_c","x":0.052,"E":0.408,"w":0.14},{"el":"Te_c","x":0.069,"E":0.395,"w":0.12},{"el":"Te_c","x":0.089,"E":0.385,"w":0.08},
{"el":"Sn","x":-0.035,"E":0.425,"w":0.03},{"el":"Sn","x":0,"E":0.438,"w":0.03},{"el":"Sn","x":0.035,"E":0.422,"w":0.03},
{"el":"Sn","x":0.12,"E":0.212,"w":0.02},{"el":"Sn","x":0.136,"E":0.244,"w":0.03},{"el":"Te_c","x":0.15,"E":0.26,"w":0.06},{"el":"Te_c","x":0.167,"E":0.256,"w":0.03},{"el":"Te_c","x":-0.133,"E":0.19,"w":0.02},
{"el":"Te_c","x":-0.192,"E":-0.257,"w":0.62},{"el":"Te_c","x":-0.169,"E":-0.208,"w":0.45},{"el":"Te_c","x":-0.151,"E":-0.17,"w":0.45},{"el":"Te_c","x":-0.133,"E":-0.152,"w":0.55},{"el":"Te_c","x":-0.115,"E":-0.162,"w":0.48},{"el":"Te_c","x":-0.097,"E":-0.195,"w":0.38},{"el":"Te_c","x":-0.076,"E":-0.228,"w":0.22},{"el":"Te_c","x":-0.055,"E":-0.246,"w":0.1},{"el":"Te_c","x":0.069,"E":-0.256,"w":0.12},{"el":"Te_c","x":0.089,"E":-0.222,"w":0.2},{"el":"Te_c","x":0.105,"E":-0.217,"w":0.2},{"el":"Te_c","x":0.12,"E":-0.214,"w":0.22},{"el":"Te_c","x":0.136,"E":-0.208,"w":0.2},{"el":"Te_c","x":0.15,"E":-0.196,"w":0.15},{"el":"Te_c","x":0.162,"E":-0.182,"w":0.1},{"el":"Te_c","x":0.182,"E":-0.156,"w":0.06},
{"el":"Sn","x":-0.035,"E":-0.251,"w":0.18},{"el":"Sn","x":-0.015,"E":-0.248,"w":0.25},{"el":"Sn","x":0,"E":-0.246,"w":0.3},{"el":"Sn","x":0.017,"E":-0.248,"w":0.25},{"el":"Sn","x":0.038,"E":-0.251,"w":0.18},{"el":"Sn","x":0.055,"E":-0.255,"w":0.1},
{"el":"Sn","x":-0.192,"E":-0.257,"w":0.04},{"el":"Sn","x":-0.151,"E":-0.17,"w":0.04},{"el":"Sn","x":-0.133,"E":-0.152,"w":0.04},{"el":"Sn","x":-0.097,"E":-0.195,"w":0.04},{"el":"Sn","x":0.089,"E":-0.222,"w":0.04},{"el":"Sn","x":0.12,"E":-0.214,"w":0.04},{"el":"Sn","x":0.15,"E":-0.196,"w":0.03},
{"el":"Te_c","x":-0.055,"E":-0.376,"w":0.08},{"el":"Te_c","x":-0.035,"E":-0.42,"w":0.2},{"el":"Te_c","x":-0.016,"E":-0.451,"w":0.25},{"el":"Te_c","x":0,"E":-0.466,"w":0.3},{"el":"Te_c","x":0.017,"E":-0.456,"w":0.25},{"el":"Te_c","x":0.035,"E":-0.426,"w":0.2},{"el":"Te_c","x":0.051,"E":-0.395,"w":0.08},{"el":"Te_c","x":0.182,"E":-0.554,"w":0.18},
{"el":"Sn","x":-0.115,"E":-0.41,"w":0.04},{"el":"Sn","x":-0.097,"E":-0.387,"w":0.06},{"el":"Sn","x":-0.076,"E":-0.369,"w":0.05},{"el":"Sn","x":0.089,"E":-0.374,"w":0.05},{"el":"Sn","x":0.11,"E":-0.393,"w":0.06},{"el":"Sn","x":0.13,"E":-0.405,"w":0.05},{"el":"Sn","x":0.146,"E":-0.426,"w":0.04},
{"el":"Sn","x":-0.035,"E":-0.42,"w":0.03},{"el":"Sn","x":0,"E":-0.466,"w":0.04},{"el":"Sn","x":0.035,"E":-0.426,"w":0.03}
],
"leg":[{"el":"Bi","lab":"Bi","sub":""},{"el":"Te_o","lab":"Te","sub":"o"},{"el":"Sn","lab":"Sn","sub":""},{"el":"Te_c","lab":"Te","sub":"c"}]
},
"spacing":9,
"vconcat":[
{"hconcat":[
 {"width":157,"height":199,
  "layer":[
   {"data":{"name":"hs"},"mark":{"type":"rule","color":"#555","strokeWidth":1.5},
    "encoding":{"x":{"field":"k","type":"quantitative","scale":{"domain":[0,156],"nice":false,"zero":false},
     "axis":{"orient":"top","title":"a","titleX":-46,"titleY":9,"titleAngle":0,"titleAlign":"left","titleBaseline":"alphabetic","titleFontSize":18,"labels":false,"ticks":false,"domain":false}}}},
   {"data":{"name":"ba"},"mark":{"type":"line","color":"#1a1aff","strokeWidth":1.3,"clip":true,"interpolate":"monotone"},
    "encoding":{"x":{"field":"k","type":"quantitative","axis":{"orient":"bottom","values":[0,28,44,75,81,109,125,156],"labelExpr":"datum.value==0||datum.value==75?'Γ':datum.value==28?'M':datum.value==44?'K':datum.value==109?'L':datum.value==125?'H':'A'","title":null,"ticks":false,"domain":false,"labelOverlap":false,"labelBound":false,"labelFlush":false,"labelSeparation":-40,"labelPadding":5,"labelFontSize":12,"labelFont":{"condition":{"test":"datum.value==0||datum.value==75","value":"Liberation Serif"},"value":"Liberation Sans"}}},
     "y":{"field":"E","type":"quantitative","scale":{"domain":[-1,1],"nice":false},"axis":{"values":[-1,-0.75,-0.5,-0.25,0,0.25,0.5,0.75,1],"labelOverlap":false,"labelSeparation":-40,"labelExpr":"abs(datum.value*4)%2==1?'':(datum.value<0?'-':'')+format(abs(datum.value),'.1f')","title":"Energy (eV)"}},
     "detail":{"field":"b","type":"nominal"}}}
  ],
  "resolve":{"axis":{"x":"independent"}}},
 {"width":155,"height":199,
  "layer":[
   {"data":{"name":"hs"},"mark":{"type":"rule","color":"#555","strokeWidth":1.5},
    "encoding":{"x":{"field":"k","type":"quantitative","scale":{"domain":[0,156],"nice":false,"zero":false},
     "axis":{"orient":"top","title":"b","titleX":-41,"titleY":10,"titleAngle":0,"titleAlign":"left","titleBaseline":"alphabetic","titleFontSize":18,"labels":false,"ticks":false,"domain":false}}}},
   {"data":{"name":"bb"},"mark":{"type":"line","color":"#ff1a1a","strokeWidth":1.3,"clip":true,"interpolate":"monotone"},
    "encoding":{"x":{"field":"k","type":"quantitative","axis":{"orient":"bottom","values":[0,28,44,75,81,109,125,156],"labelExpr":"datum.value==0||datum.value==75?'Γ':datum.value==28?'M':datum.value==44?'K':datum.value==109?'L':datum.value==125?'H':'A'","title":null,"ticks":false,"domain":false,"labelOverlap":false,"labelBound":false,"labelFlush":false,"labelSeparation":-40,"labelPadding":5,"labelFontSize":12,"labelFont":{"condition":{"test":"datum.value==0||datum.value==75","value":"Liberation Serif"},"value":"Liberation Sans"}}},
     "y":{"field":"E","type":"quantitative","scale":{"domain":[-1,1],"nice":false},"axis":{"values":[-1,-0.75,-0.5,-0.25,0,0.25,0.5,0.75,1],"labelOverlap":false,"labelSeparation":-40,"labelExpr":"abs(datum.value*4)%2==1?'':(datum.value<0?'-':'')+format(abs(datum.value),'.1f')","title":null}},
     "detail":{"field":"b","type":"nominal"}}},
   {"data":{"name":"sy"},"mark":{"type":"text","fontSize":22,"fontWeight":"bold","color":"#000"},
    "encoding":{"x":{"field":"k","type":"quantitative","axis":null},"y":{"field":"E","type":"quantitative","axis":null},"text":{"field":"t"}}}
  ],
  "resolve":{"axis":{"x":"independent","y":"independent"}}}
],"spacing":1},
{"hconcat":[
 {"vconcat":[
  {"width":156,"height":128,
   "layer":[
    {"data":{"values":[{}]},"mark":{"type":"rule","color":"#888","strokeWidth":1},
     "encoding":{"x":{"datum":0,"type":"quantitative","axis":{"orient":"top","title":"w/o SOI","labels":false,"ticks":false,"domain":false,"titlePadding":9}}}},
    {"data":{"name":"w0"},"mark":{"type":"line","color":"#000","strokeWidth":1.2,"clip":true,"interpolate":"monotone"},
     "encoding":{"x":{"field":"x","type":"quantitative","scale":{"domain":[-0.2,0.2],"nice":false},"axis":{"orient":"bottom","values":[-0.2,-0.1,0,0.1,0.2],"labelOverlap":false,"labelSeparation":-40,"labelExpr":"abs(datum.value)<0.15&&datum.value!=0?'':(datum.value<0?'-':'')+format(abs(datum.value),'.1f')","title":null}},
      "y":{"field":"E","type":"quantitative","scale":{"domain":[-0.5,0.5],"nice":false},"axis":{"values":[-0.5,-0.4,-0.3,-0.2,-0.1,0,0.1,0.2,0.3,0.4,0.5],"labelOverlap":false,"labelSeparation":-40,"labelExpr":"round(datum.value*10)%5==0?(datum.value<0?'-':'')+format(abs(datum.value),'.1f'):''","title":"Energy (eV)"}},
      "detail":{"field":"b","type":"nominal"}}},
    {"data":{"name":"dc"},"mark":{"type":"circle","opacity":1,"clip":true},
     "encoding":{"x":{"field":"x","type":"quantitative","axis":{"orient":"top","title":"c","titleX":-45,"titleY":-17,"titleAngle":0,"titleAlign":"left","titleBaseline":"alphabetic","titleFontSize":18,"labels":false,"ticks":false,"domain":false}},"y":{"field":"E","type":"quantitative","axis":null},
      "color":{"field":"el","type":"nominal","scale":{"domain":["Bi","Te_o","Sn","Te_c"],"range":["#ff1010","#1010ff","#ffa500","#800080"]},"legend":null},
      "size":{"field":"w","type":"quantitative","scale":{"domain":[0,1],"range":[0,154]},"legend":null},
      "order":{"field":"w","sort":"descending"}}}
   ],
   "resolve":{"axis":{"x":"independent","y":"independent"}}},
  {"width":128,"height":24,"data":{"name":"leg"},"view":{"stroke":null},
   "layer":[
    {"mark":{"type":"circle","size":80,"opacity":1},
     "encoding":{"x":{"field":"el","type":"nominal","scale":{"type":"point","domain":["Bi","Te_o","Sn","Te_c"],"padding":0.1},"axis":null},
      "y":{"datum":0,"type":"quantitative","scale":{"domain":[-1,1]},"axis":{"title":"d","titleAngle":0,"titleFontSize":18,"titleAlign":"right","titleBaseline":"middle","titleX":-34,"titleY":12,"labels":false,"ticks":false,"domain":false}},
      "color":{"field":"el","type":"nominal","scale":{"domain":["Bi","Te_o","Sn","Te_c"],"range":["#ff1010","#1010ff","#ffa500","#800080"]},"legend":null}}},
    {"mark":{"type":"text","align":"left","dx":8,"fontSize":13,"color":"#000"},
     "encoding":{"x":{"field":"el","type":"nominal"},"text":{"field":"lab"}}},
    {"mark":{"type":"text","align":"left","dx":23,"dy":4,"fontSize":9,"color":"#000"},
     "encoding":{"x":{"field":"el","type":"nominal"},"text":{"field":"sub"}}}
   ]},
  {"width":156,"height":128,
   "layer":[
    {"data":{"values":[{}]},"mark":{"type":"rule","color":"#888","strokeWidth":1},
     "encoding":{"x":{"datum":0,"type":"quantitative","axis":null}}},
    {"data":{"name":"w0"},"mark":{"type":"line","color":"#000","strokeWidth":1.2,"clip":true,"interpolate":"monotone"},
     "encoding":{"x":{"field":"x","type":"quantitative","scale":{"domain":[-0.2,0.2],"nice":false},"axis":{"orient":"bottom","values":[-0.2,-0.1,0,0.1,0.2],"labelOverlap":false,"labelSeparation":-40,"labelExpr":"abs(datum.value)<0.15&&datum.value!=0?'':(datum.value<0?'-':'')+format(abs(datum.value),'.1f')","title":"K ← k (Å⁻¹) → M","titlePadding":5}},
      "y":{"field":"E","type":"quantitative","scale":{"domain":[-0.5,0.5],"nice":false},"axis":{"values":[-0.5,-0.4,-0.3,-0.2,-0.1,0,0.1,0.2,0.3,0.4,0.5],"labelOverlap":false,"labelSeparation":-40,"labelExpr":"round(datum.value*10)%5==0?(datum.value<0?'-':'')+format(abs(datum.value),'.1f'):''","title":"Energy (eV)"}},
      "detail":{"field":"b","type":"nominal"}}},
    {"data":{"name":"dd"},"mark":{"type":"circle","opacity":1,"clip":true},
     "encoding":{"x":{"field":"x","type":"quantitative","axis":null},"y":{"field":"E","type":"quantitative","axis":null},
      "color":{"field":"el","type":"nominal","scale":{"domain":["Bi","Te_o","Sn","Te_c"],"range":["#ff1010","#1010ff","#ffa500","#800080"]},"legend":null},
      "size":{"field":"w","type":"quantitative","scale":{"domain":[0,1],"range":[0,154]},"legend":null},
      "order":{"field":"w","sort":"descending"}}}
   ],
   "resolve":{"axis":{"x":"independent","y":"independent"}}}
 ],"spacing":12},
 {"vconcat":[
  {"width":129,"height":156,
   "layer":[
    {"data":{"values":[{}]},"mark":{"type":"rule","color":"#bbb","strokeWidth":2},
     "encoding":{"x":{"datum":0,"type":"quantitative","axis":{"orient":"top","title":"SOI","labels":false,"ticks":false,"domain":false,"titlePadding":8}}}},
    {"data":{"name":"so"},"mark":{"type":"line","color":"#000","strokeWidth":1.2,"clip":true,"interpolate":"monotone"},
     "encoding":{"x":{"field":"x","type":"quantitative","scale":{"domain":[-0.2,0.2],"nice":false},"axis":{"orient":"bottom","values":[-0.2,-0.1,0,0.1,0.2],"labels":false,"title":null}},
      "y":{"field":"E","type":"quantitative","scale":{"domain":[-0.6,0.6],"nice":false},"axis":{"values":[-0.6,-0.4,-0.2,0,0.2,0.4,0.6],"labelOverlap":false,"labelSeparation":-40,"labelExpr":"(datum.value<0?'-':'')+format(abs(datum.value),'.1f')","title":"Energy (eV)"}},
      "detail":{"field":"b","type":"nominal"}}},
    {"data":{"name":"de"},"mark":{"type":"circle","opacity":1,"clip":true},
     "encoding":{"x":{"field":"x","type":"quantitative","axis":{"orient":"top","title":"e","titleX":-36,"titleY":-14,"titleAngle":0,"titleAlign":"left","titleBaseline":"alphabetic","titleFontSize":18,"labels":false,"ticks":false,"domain":false}},"y":{"field":"E","type":"quantitative","axis":null},
      "color":{"field":"el","type":"nominal","scale":{"domain":["Bi","Te_o","Sn","Te_c"],"range":["#ff1010","#1010ff","#ffa500","#800080"]},"legend":null},
      "size":{"field":"w","type":"quantitative","scale":{"domain":[0,1],"range":[0,154]},"legend":null},
      "order":{"field":"w","sort":"descending"}}}
   ],
   "resolve":{"axis":{"x":"independent","y":"independent"}}},
  {"width":129,"height":156,
   "layer":[
    {"data":{"values":[{}]},"mark":{"type":"rule","color":"#bbb","strokeWidth":2},
     "encoding":{"x":{"datum":0,"type":"quantitative","axis":{"orient":"top","title":"f","titleX":-34,"titleY":9,"titleAngle":0,"titleAlign":"left","titleBaseline":"alphabetic","titleFontSize":18,"labels":false,"ticks":false,"domain":false}}}},
    {"data":{"name":"so"},"mark":{"type":"line","color":"#000","strokeWidth":1.2,"clip":true,"interpolate":"monotone"},
     "encoding":{"x":{"field":"x","type":"quantitative","scale":{"domain":[-0.2,0.2],"nice":false},"axis":{"orient":"bottom","values":[-0.2,-0.1,0,0.1,0.2],"labelOverlap":false,"labelSeparation":-40,"labelExpr":"abs(datum.value)<0.15&&datum.value!=0?'':(datum.value<0?'-':'')+format(abs(datum.value),'.1f')","title":"K ← k (Å⁻¹) → M","titlePadding":5}},
      "y":{"field":"E","type":"quantitative","scale":{"domain":[-0.6,0.6],"nice":false},"axis":{"values":[-0.6,-0.4,-0.2,0,0.2,0.4,0.6],"labelOverlap":false,"labelSeparation":-40,"labelExpr":"(datum.value<0?'-':'')+format(abs(datum.value),'.1f')","title":"Energy (eV)"}},
      "detail":{"field":"b","type":"nominal"}}},
    {"data":{"name":"df"},"mark":{"type":"circle","opacity":1,"clip":true},
     "encoding":{"x":{"field":"x","type":"quantitative","axis":null},"y":{"field":"E","type":"quantitative","axis":null},
      "color":{"field":"el","type":"nominal","scale":{"domain":["Bi","Te_o","Sn","Te_c"],"range":["#ff1010","#1010ff","#ffa500","#800080"]},"legend":null},
      "size":{"field":"w","type":"quantitative","scale":{"domain":[0,1],"range":[0,154]},"legend":null},
      "order":{"field":"w","sort":"descending"}}}
   ],
   "resolve":{"axis":{"x":"independent","y":"independent"}}}
 ],"spacing":1}
],"spacing":23}
]
}
